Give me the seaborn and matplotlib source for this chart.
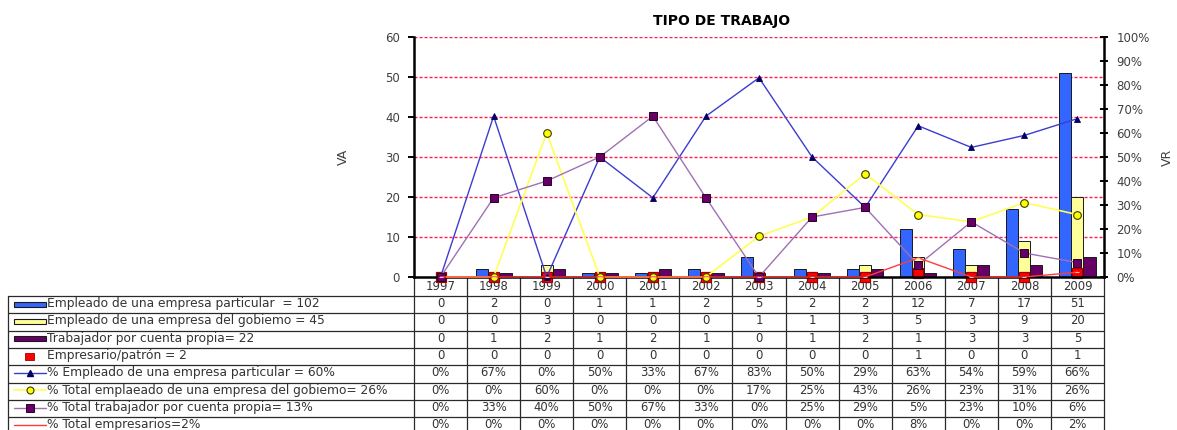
import matplotlib
matplotlib.use("Agg")
import matplotlib.pyplot as plt
from matplotlib.patches import Rectangle
from matplotlib.transforms import blended_transform_factory
import numpy as np
import pandas as pd
import seaborn as sns

# ---- data -------------------------------------------------------------
years = ["1997", "1998", "1999", "2000", "2001", "2002", "2003",
         "2004", "2005", "2006", "2007", "2008", "2009"]

particular = [0, 2, 0, 1, 1, 2, 5, 2, 2, 12, 7, 17, 51]
gobierno = [0, 0, 3, 0, 0, 0, 1, 1, 3, 5, 3, 9, 20]
cuenta_propia = [0, 1, 2, 1, 2, 1, 0, 1, 2, 1, 3, 3, 5]
empresario = [0, 0, 0, 0, 0, 0, 0, 0, 0, 1, 0, 0, 1]

pct_particular = [0, 67, 0, 50, 33, 67, 83, 50, 29, 63, 54, 59, 66]
pct_gobierno = [0, 0, 60, 0, 0, 0, 17, 25, 43, 26, 23, 31, 26]
pct_propia = [0, 33, 40, 50, 67, 33, 0, 25, 29, 5, 23, 10, 6]
pct_empresarios = [0, 0, 0, 0, 0, 0, 0, 0, 0, 8, 0, 0, 2]

row_labels = [
    "Empleado de una empresa particular  = 102",
    "Empleado de una empresa del gobiemo = 45",
    "Trabajador por cuenta propia= 22",
    "Empresario/patrón = 2",
    "% Empleado de una empresa particular = 60%",
    "% Total emplaeado de una empresa del gobiemo= 26%",
    "% Total trabajador por cuenta propia= 13%",
    "% Total empresarios=2%",
]

title = "TIPO DE TRABAJO"

# ---- style ------------------------------------------------------------
sns.set_style("ticks")
plt.rcParams["font.family"] = ["DejaVu Sans"]

C_BLUE = "#3366ff"
C_YELLOW = "#ffff99"
C_PURPLE = "#660066"
C_RED = "#ff0000"
C_GRID = "#ff1f4f"
TXT = "#333333"

W, H = 1177, 430
fig = plt.figure(figsize=(W / 100, H / 100), dpi=100)

# plot area in pixel terms: x 414..1104, y 37..277 (from top)
ax = fig.add_axes([414 / W, (H - 277) / H, (1104 - 414) / W, 240 / H])

# ---- bars (left axis, counts) ----------------------------------------
bar_df = pd.DataFrame({
    "year": years * 3,
    "valor": particular + gobierno + cuenta_propia,
    "serie": [row_labels[0]] * 13 + [row_labels[1]] * 13 + [row_labels[2]] * 13,
})
sns.barplot(data=bar_df, x="year", y="valor", hue="serie",
            hue_order=row_labels[:3], palette=[C_BLUE, C_YELLOW, C_PURPLE],
            saturation=1, width=0.68, edgecolor="#1a1a1a", linewidth=0.7,
            errorbar=None, legend=False, ax=ax)

# employer counts drawn as square markers
sns.pointplot(x=years, y=empresario, ax=ax, color=C_RED, markers="s",
              linestyles="none", errorbar=None, markersize=7.5,
              markeredgecolor="#a00000", markeredgewidth=0.9, clip_on=False)

ax.set_ylim(0, 60)
ax.set_yticks(range(0, 61, 10))
ax.set_xlabel("")
ax.set_ylabel("VA", fontsize=9, color="#404040")
ax.yaxis.set_label_coords(-0.093, 0.5)
ax.tick_params(axis="y", direction="out", length=4, width=1.4, color="black",
               labelsize=8.5, labelcolor="#404040", pad=6)
ax.tick_params(axis="x", length=0, labelbottom=False)
ax.grid(False)
# dashed horizontal guides at every left-axis tick
for v in ax.get_yticks()[1:]:
    ax.axhline(v, color=C_GRID, linestyle=(0, (2.2, 1.4)), linewidth=1.0,
               zorder=0.5, snap=True)
for side in ("top", "right"):
    ax.spines[side].set_visible(False)
for side in ("left", "bottom"):
    ax.spines[side].set_linewidth(1.8)
    ax.spines[side].set_color("black")

# ---- percentage lines (right axis) ----------------------------------
ax2 = ax.twinx()
sns.pointplot(x=years, y=pct_particular, ax=ax2, color="#3c3cd0",
              markers="^", linestyles="-", errorbar=None, linewidth=1.0,
              markersize=4.5, markerfacecolor="#000066",
              markeredgecolor="#000066", markeredgewidth=0.6, clip_on=False)
sns.pointplot(x=years, y=pct_gobierno, ax=ax2, color="#ffff55",
              markers="o", linestyles="-", errorbar=None, linewidth=1.2,
              markersize=5.5, markerfacecolor="#ffff00",
              markeredgecolor="#3a3a00", markeredgewidth=0.8, clip_on=False)
sns.pointplot(x=years, y=pct_propia, ax=ax2, color="#a070b4",
              markers="s", linestyles="-", errorbar=None, linewidth=1.0,
              markersize=5.5, markerfacecolor=C_PURPLE,
              markeredgecolor="#2a002a", markeredgewidth=0.7, clip_on=False)
sns.pointplot(x=years, y=pct_empresarios, ax=ax2, color="#ff3a3a",
              markers="_", linestyles="-", errorbar=None, linewidth=1.0,
              markersize=3, markeredgecolor="#ffc0c0", markeredgewidth=0.8,
              clip_on=False)

ax2.set_ylim(0, 100)
ax2.set_yticks(range(0, 101, 10))
ax2.set_yticklabels([f"{v}%" for v in range(0, 101, 10)])
ax2.grid(False)
ax2.set_ylabel("VR", fontsize=9, color="#404040")
ax2.yaxis.set_label_coords(1.0826, 0.5)
ax2.tick_params(axis="y", direction="inout", length=6, width=1.4,
                color="black", labelsize=8.5, labelcolor="#404040", pad=6)
for side in ("top", "left", "bottom"):
    ax2.spines[side].set_visible(False)
ax2.spines["right"].set_linewidth(1.8)
ax2.spines["right"].set_color("black")

ax.set_xlim(-0.5, len(years) - 0.5)

fig.text(721.5 / W, 1 - 21 / H, title, ha="center", va="center",
         fontsize=10, fontweight="bold", color="black")

# ---- data table below the plot ---------------------------------------
tax = fig.add_axes([0, 0, 1, 1], zorder=-1)
tax.set_xlim(0, W)
tax.set_ylim(H, 0)
tax.axis("off")
col = blended_transform_factory(ax.transData, tax.transData)

head_top, head_bot = 277, 296
row_h = 17.33
row_tops = [head_bot + k * row_h for k in range(len(row_labels) + 1)]
tab_left, tab_right = 8, 1104
grid_kw = dict(color="#2a2a2a", linewidth=0.9)

for y in row_tops:
    tax.plot([tab_left, tab_right], [y, y], **grid_kw)
tax.plot([tab_left, tab_left], [head_bot, H + 5], **grid_kw)
for i in range(len(years) + 1):
    tax.plot([i - 0.5, i - 0.5], [head_top, H + 5], transform=col, **grid_kw)

cell_fs = 8.4
for i, yr in enumerate(years):
    tax.text(i, (head_top + head_bot) / 2 + 0.5, yr, transform=col,
             ha="center", va="center", fontsize=cell_fs, color=TXT)

table_rows = [particular, gobierno, cuenta_propia, empresario,
              pct_particular, pct_gobierno, pct_propia, pct_empresarios]
rc = [row_tops[r] + row_h / 2 for r in range(len(row_labels))]
for r, vals in enumerate(table_rows):
    yc = rc[r] - 1
    for i, v in enumerate(vals):
        txt = f"{v}%" if r >= 4 else f"{v}"
        tax.text(i, yc, txt, transform=col, ha="center", va="center",
                 fontsize=cell_fs, color=TXT)
    tax.text(47, yc, row_labels[r], ha="left", va="center",
             fontsize=8.8, color=TXT)

# legend keys in the label column
key_x0, key_x1, key_mid = 14, 46, 30
for r, fc in enumerate([C_BLUE, C_YELLOW, C_PURPLE]):
    tax.add_patch(Rectangle((key_x0, rc[r] - 3), key_x1 - key_x0, 5,
                            facecolor=fc, edgecolor="#1a1a1a", linewidth=0.8))
tax.add_patch(Rectangle((25, rc[3] - 4), 9, 7, facecolor=C_RED,
                        edgecolor="#a00000", linewidth=0.6))
tax.plot([key_x0, key_x1], [rc[4] - 1] * 2, color="#3c3cd0", lw=1.0)
tax.plot([key_mid], [rc[4] - 1], marker="^", ms=4.5, color="#000066")
tax.plot([key_x0, key_x1], [rc[5] - 1] * 2, color="#ffff55", lw=1.2)
tax.plot([key_mid], [rc[5] - 1], marker="o", ms=5, mfc="#ffff00",
         mec="#3a3a00", mew=0.8)
tax.plot([key_x0, key_x1], [rc[6] - 1] * 2, color="#a070b4", lw=1.0)
tax.plot([key_mid], [rc[6] - 1], marker="s", ms=5.5, mfc=C_PURPLE,
         mec="#2a002a", mew=0.7)
tax.plot([key_x0, key_x1], [rc[7] - 1] * 2, color="#ff3a3a", lw=1.0)

fig.savefig("out.png", dpi=100)
